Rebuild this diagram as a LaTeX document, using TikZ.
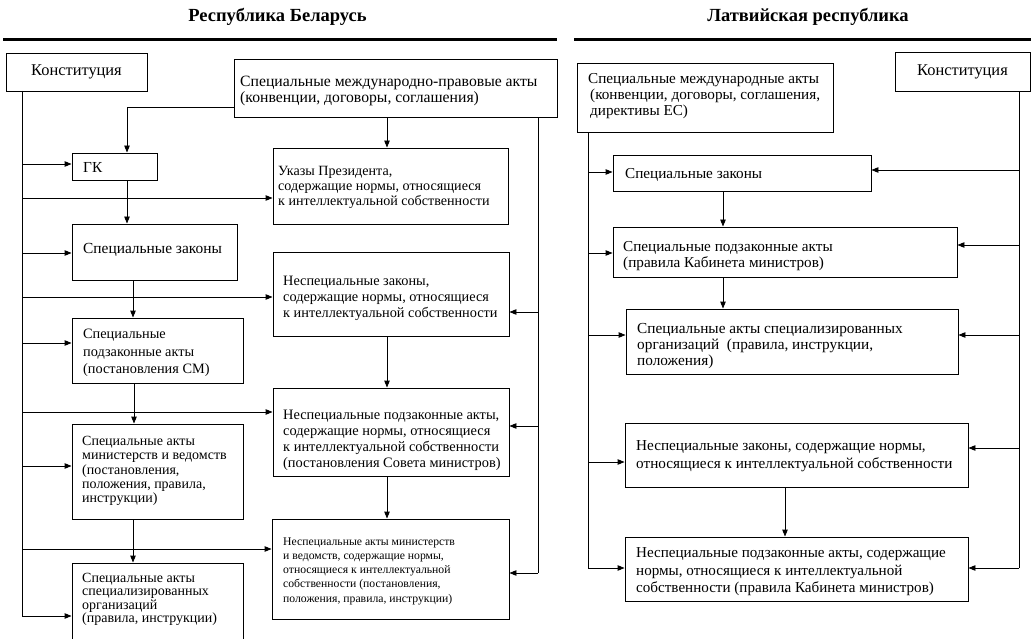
\documentclass[tikz,border=0pt]{standalone}
\usepackage{fontspec}
\setmainfont{Liberation Serif}
\usetikzlibrary{arrows.meta}
\tikzset{
  ln/.style={line width=0.9pt},
  arr/.style={line width=0.9pt,-{Triangle[length=7pt,width=5.5pt]}},
  bx/.style 2 args={draw, line width=0.9pt, inner sep=0pt, minimum width=#1, minimum height=#2},
  txt/.style={inner sep=0pt, align=left, anchor=west},
  rule/.style={line width=3pt},
  title/.style={font=\bfseries\fontsize{18.5}{21}\selectfont}
}
\begin{document}
\begin{tikzpicture}[x=1pt,y=-1pt]
\useasboundingbox (0,0) rectangle (1031,639);
% titles and rules
\node[title] (tl) at (277.5,17) {Республика Беларусь};
\node[title] (tr) at (808,17) {Латвийская республика};
\coordinate (rl1) at (3,40); \coordinate (rl2) at (557,40);
\coordinate (rr1) at (574,40); \coordinate (rr2) at (1031,40);
\draw[rule] (rl1) -- (rl2);
\draw[rule] (rr1) -- (rr2);

% ---------- left: Belarus ----------
\node[bx={141pt}{38pt}, font=\fontsize{16.4}{18}\selectfont] (K1) at (76.5,72) {Конституция};
\node[bx={323pt}{58pt}] (I1) at (395.5,88) {};
\node[txt, font=\fontsize{15.7}{16}\selectfont] (I1t) at (240,90.5)
  {Специальные международно-правовые акты\\(конвенции, договоры, соглашения)};
\node[bx={85pt}{27pt}] (GK) at (114.5,166.5) {};
\node[txt, font=\fontsize{15.3}{17}\selectfont] (GKt) at (83,167) {ГК};
\node[bx={235pt}{76pt}] (U) at (390.5,186) {};
\node[txt, font=\fontsize{14.1}{15}\selectfont] (Ut) at (278,187.5)
  {Указы Президента,\\содержащие нормы, относящиеся\\к интеллектуальной собственности};
\node[bx={165pt}{56pt}] (SL) at (154.5,252) {};
\node[txt, font=\fontsize{15.4}{17}\selectfont] (SLt) at (83,249.5) {Специальные законы};
\node[bx={236pt}{84pt}] (NZ) at (391,294) {};
\node[txt, font=\fontsize{14.3}{15.8}\selectfont] (NZt) at (283,298.5)
  {Неспециальные законы,\\содержащие нормы, относящиеся\\к интеллектуальной собственности};
\node[bx={171pt}{65pt}] (SP) at (157.5,350.5) {};
\node[txt, font=\fontsize{14.3}{17.5}\selectfont] (SPt) at (83,353)
  {Специальные\\подзаконные акты\\(постановления СМ)};
\node[bx={236pt}{88pt}] (NP) at (391,432) {};
\node[txt, font=\fontsize{14.4}{16.1}\selectfont] (NPt) at (283,440)
  {Неспециальные подзаконные акты,\\содержащие нормы, относящиеся\\к интеллектуальной собственности\\(постановления Совета министров)};
\node[bx={171pt}{95pt}] (SM) at (157.5,471.5) {};
\node[txt, font=\fontsize{14}{14.3}\selectfont] (SMt) at (82,471)
  {Специальные акты\\министерств и ведомств\\(постановления,\\положения, правила,\\инструкции)};
\node[bx={237pt}{100pt}] (NM) at (390.5,569) {};
\node[txt, font=\fontsize{11.7}{14.25}\selectfont] (NMt) at (283,571)
  {Неспециальные акты министерств\\и ведомств, содержащие нормы,\\относящиеся к интеллектуальной\\собственности (постановления,\\положения, правила, инструкции)};
\node[bx={171pt}{80pt}] (SO) at (157.5,603) {};
\node[txt, font=\fontsize{14}{13.3}\selectfont] (SOt) at (82,599.5)
  {Специальные акты\\специализированных\\организаций\\(правила, инструкции)};

% trunk from constitution
\coordinate (T1a) at (22,91);
\coordinate (T1b) at (22,616);
\draw[ln] (T1a) -- (T1b);
\draw[arr] (T1a |- 0,164) -- (GK.west |- 0,164);
\draw[arr] (T1a |- 0,198) -- (U.west |- 0,198);
\draw[arr] (T1a |- 0,253) -- (SL.west |- 0,253);
\draw[arr] (T1a |- 0,297) -- (NZ.west |- 0,297);
\draw[arr] (T1a |- 0,343) -- (SP.west |- 0,343);
\draw[arr] (T1a |- 0,412) -- (NP.west |- 0,412);
\draw[arr] (T1a |- 0,466) -- (SM.west |- 0,466);
\draw[arr] (T1a |- 0,549) -- (NM.west |- 0,549);
\draw[arr] (T1b) -- (SO.west |- T1b);

% international acts
\draw[arr] (I1.west |- 0,107) -| (127,0 |- GK.north);
\draw[arr] (I1.south -| 387,0) -- (U.north -| 387,0);
\coordinate (T2a) at (I1.south -| 538,0);
\coordinate (T2b) at (538,573);
\draw[ln] (T2a) -- (T2b);
\draw[arr] (T2a |- 0,312) -- (NZ.east |- 0,312);
\draw[arr] (T2a |- 0,426) -- (NP.east |- 0,426);
\draw[arr] (T2b) -- (NM.east |- T2b);

% chains
\draw[arr] (GK.south -| 127,0) -- (SL.north -| 127,0);
\draw[arr] (SL.south -| 133,0) -- (SP.north -| 133,0);
\draw[arr] (SP.south -| 134,0) -- (SM.north -| 134,0);
\draw[arr] (SM.south -| 133,0) -- (SO.north -| 133,0);
\draw[arr] (NZ.south -| 387,0) -- (NP.north -| 387,0);
\draw[arr] (NP.south -| 387,0) -- (NM.north -| 387,0);

% ---------- right: Latvia ----------
\node[bx={256pt}{69pt}] (I2) at (705,97.5) {};
\node[txt, font=\fontsize{15.2}{16}\selectfont] (I2t) at (588,96.5)
  {Специальные международные акты\\\hspace*{2pt}(конвенции, договоры, соглашения,\\\hspace*{2pt}директивы ЕС)};
\node[bx={135pt}{39pt}, font=\fontsize{16.4}{18}\selectfont] (K2) at (962.5,71.5) {Конституция};
\node[bx={258pt}{36pt}] (L1) at (742,173) {};
\node[txt, font=\fontsize{15.2}{17}\selectfont] (L1t) at (625,175) {Специальные законы};
\node[bx={344pt}{50pt}] (L2) at (785,252) {};
\node[txt, font=\fontsize{15.2}{16.7}\selectfont] (L2t) at (623,256)
  {Специальные подзаконные акты\\(правила Кабинета министров)};
\node[bx={332pt}{65pt}] (L3) at (792,341.5) {};
\node[txt, font=\fontsize{15.3}{16}\selectfont] (L3t) at (637,346)
  {Специальные акты специализированных\\организаций\ \ (правила, инструкции,\\положения)};
\node[bx={343pt}{64pt}] (L4) at (796.5,455) {};
\node[txt, font=\fontsize{15.2}{18}\selectfont] (L4t) at (636,456.5)
  {Неспециальные законы, содержащие нормы,\\относящиеся к интеллектуальной собственности};
\node[bx={343pt}{64pt}] (L5) at (796.5,569) {};
\node[txt, font=\fontsize{15.1}{17.5}\selectfont] (L5t) at (636,572)
  {Неспециальные подзаконные акты, содержащие\\нормы, относящиеся к интеллектуальной\\собственности (правила Кабинета министров)};

\coordinate (T3a) at (I2.south -| 588,0);
\coordinate (T3b) at (588,568);
\draw[ln] (T3a) -- (T3b);
\draw[arr] (T3a |- 0,172) -- (L1.west |- 0,172);
\draw[arr] (T3a |- 0,253) -- (L2.west |- 0,253);
\draw[arr] (T3a |- 0,335) -- (L3.west |- 0,335);
\draw[arr] (T3a |- 0,462) -- (L4.west |- 0,462);
\draw[arr] (T3b) -- (L5.west |- T3b);

\coordinate (T4a) at (K2.south -| 1019,0);
\coordinate (T4b) at (1019,568);
\draw[ln] (T4a) -- (T4b);
\draw[arr] (T4a |- 0,170) -- (L1.east |- 0,170);
\draw[arr] (T4a |- 0,245) -- (L2.east |- 0,245);
\draw[arr] (T4a |- 0,335) -- (L3.east |- 0,335);
\draw[arr] (T4a |- 0,448) -- (L4.east |- 0,448);
\draw[arr] (T4b) -- (L5.east |- T4b);

\draw[arr] (L1.south -| 723,0) -- (L2.north -| 723,0);
\draw[arr] (L2.south -| 723,0) -- (L3.north -| 723,0);
\draw[arr] (L4.south -| 785,0) -- (L5.north -| 785,0);
\end{tikzpicture}
\end{document}
